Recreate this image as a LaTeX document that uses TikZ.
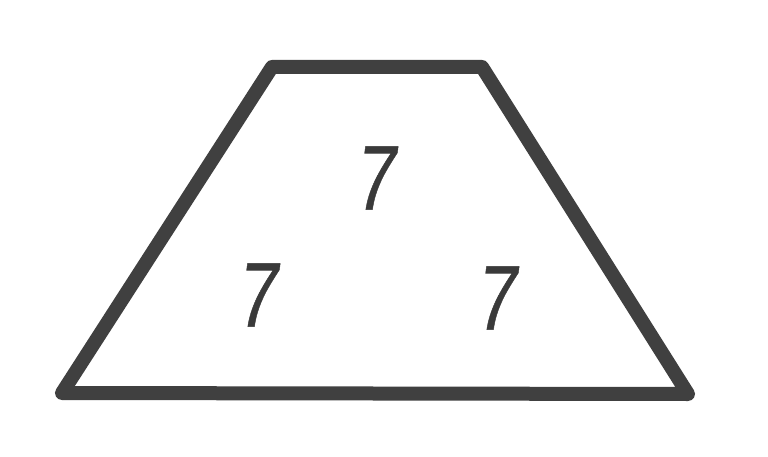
\documentclass[tikz,border=0pt]{standalone}
\usepackage{fontspec}
\setmainfont{Liberation Sans}
\newfontfamily\digitfont[FakeSlant=0.18,FakeBold=0.6]{Liberation Sans}
\definecolor{edgegray}{HTML}{404040}
\definecolor{digitgray}{HTML}{3A3A3A}
\tikzset{
        outline/.style = {draw=edgegray, line width=14pt, line join=round},
        digit/.style = {text=digitgray, inner sep=0pt, xscale=0.78,
            font=\digitfont\fontsize{92}{92}\selectfont},
    }

\begin{document}
\begin{tikzpicture}[x=1pt, y=1pt]
		\useasboundingbox[fill=white] (0,0) rectangle (768,456);
		% trapezoid corners
		\coordinate (TopLeft) at (272,389);
		\coordinate (TopRight) at (482,389);
		\coordinate (BottomRight) at (688,62);
		\coordinate (BottomLeft) at (62,63);
		\draw[outline] (TopLeft) -- (TopRight) -- (BottomRight) -- (BottomLeft) -- cycle;
		% the three sevens
		\node[digit] (SevenTop)   at (373,278) {7};
		\node[digit] (SevenLeft)  at (255,161) {7};
		\node[digit] (SevenRight) at (494,158) {7};
\end{tikzpicture}
\end{document}
